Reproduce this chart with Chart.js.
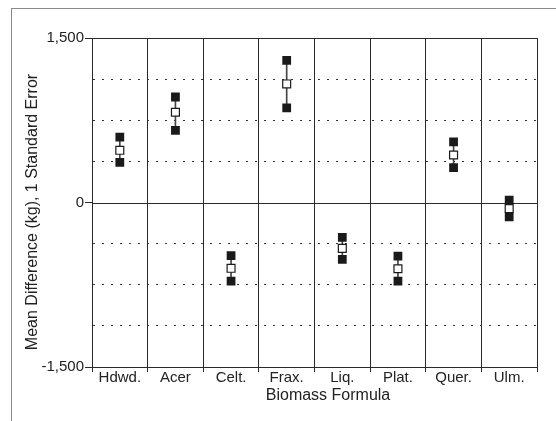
<!DOCTYPE html>
<html>
<head>
<meta charset="utf-8">
<script src="https://cdn.jsdelivr.net/npm/chart.js@4.4.0/dist/chart.umd.min.js"></script>
<style>
	html, body { margin: 0; padding: 0; background: #fff; }
	#wrap { position: relative; width: 556px; height: 421px; overflow: hidden; }
	#frame { position: absolute; left: 11px; top: 8px; width: 600px; height: 500px; border-left: 1px solid #8a8a8a; border-top: 1px solid #8a8a8a; }
	#chart { position: absolute; left: 0; top: 0; }
</style>
</head>
<body>
<div id="wrap">
	<div id="frame"></div>
	<canvas id="chart" width="556" height="421"></canvas>
</div>
<script>
const categories = ["Hdwd.", "Acer", "Celt.", "Frax.", "Liq.", "Plat.", "Quer.", "Ulm."];
const means = [476, 823, -600, 1081, -418, -604, 433, -55];
const upperSE = [597, 962, -485, 1297, -317, -488, 552, 22];
const lowerSE = [365, 657, -716, 862, -518, -716, 317, -130];
const yTickLabels = { "1500": "1,500", "0": "0", "-1500": "-1,500" };

const lineColor = "#2a2a2a";
const fontFamily = "'Liberation Sans', Arial, sans-serif";

// solid top edge and zero line; the dotted ones come from the y grid
const frameLines = {
	id: "frameLines",
	beforeDatasetsDraw(chart) {
		const { ctx, chartArea } = chart;
		const y = chart.scales.y;
		ctx.save();
		ctx.strokeStyle = lineColor;
		ctx.lineWidth = 1;
		[1500, 0].forEach((v) => {
			const py = Math.round(y.getPixelForValue(v)) + 0.5;
			ctx.beginPath();
			ctx.moveTo(chartArea.left, py);
			ctx.lineTo(chartArea.right, py);
			ctx.stroke();
		});
		ctx.restore();
	},
};

const axisTitles = {
	id: "axisTitles",
	afterDraw(chart) {
		const { ctx } = chart;
		ctx.save();
		ctx.fillStyle = "#222";
		ctx.font = "16px " + fontFamily;
		ctx.textAlign = "center";
		ctx.textBaseline = "middle";
		ctx.fillText("Biomass Formula", 328, 396);
		ctx.translate(33, 212);
		ctx.rotate(-Math.PI / 2);
		ctx.fillText("Mean Difference (kg), 1 Standard Error", 0, 0);
		ctx.restore();
	},
};

const markerBase = {
	type: "line",
	showLine: false,
	pointStyle: "rect",
	pointRadius: 6.2,
	pointHoverRadius: 6.2,
	order: 1,
};

new Chart(document.getElementById("chart"), {
	type: "bar",
	data: {
		labels: categories,
		datasets: [
			{
				label: "SE range",
				data: categories.map((c, i) => [lowerSE[i], upperSE[i]]),
				backgroundColor: "#444",
				barThickness: 1,
				order: 2,
			},
			{
				...markerBase,
				label: "Upper",
				data: upperSE,
				backgroundColor: "#1a1a1a",
				borderColor: "#1a1a1a",
				pointBorderWidth: 0,
			},
			{
				...markerBase,
				label: "Lower",
				data: lowerSE,
				backgroundColor: "#1a1a1a",
				borderColor: "#1a1a1a",
				pointBorderWidth: 0,
			},
			{
				...markerBase,
				label: "Mean",
				data: means,
				backgroundColor: "#fff",
				borderColor: "#1a1a1a",
				pointBorderWidth: 1.2,
				pointRadius: 5.6,
			},
		],
	},
	options: {
		responsive: false,
		animation: false,
		events: [],
		layout: { padding: { top: 38, right: 19, left: 0, bottom: 0 } },
		plugins: {
			legend: { display: false },
			tooltip: { enabled: false },
		},
		scales: {
			x: {
				offset: true,
				grid: {
					offset: true,
					color: lineColor,
					lineWidth: 1,
					tickLength: 5,
					tickColor: lineColor,
				},
				border: { color: lineColor, width: 1 },
				ticks: {
					color: "#222",
					padding: -3,
					maxRotation: 0,
					font: { family: fontFamily, size: 15 },
				},
				afterFit: (scale) => {
					scale.height = 54;
				},
			},
			y: {
				min: -1500,
				max: 1500,
				grid: {
					color: (ctx) => (ctx.tick && yTickLabels[ctx.tick.value] !== undefined ? "rgba(0,0,0,0)" : "#333"),
					tickColor: (ctx) => (ctx.tick && yTickLabels[ctx.tick.value] !== undefined ? lineColor : "rgba(0,0,0,0)"),
					tickLength: 7,
					lineWidth: 1,
				},
				border: { color: lineColor, width: 1, dash: [2, 7] },
				ticks: {
					stepSize: 375,
					color: "#222",
					padding: 1,
					font: { family: fontFamily, size: 15 },
					callback: (v) => yTickLabels[v] || "",
				},
				afterFit: (scale) => {
					scale.width = 92;
				},
			},
		},
	},
	plugins: [frameLines, axisTitles],
});
</script>
</body>
</html>
